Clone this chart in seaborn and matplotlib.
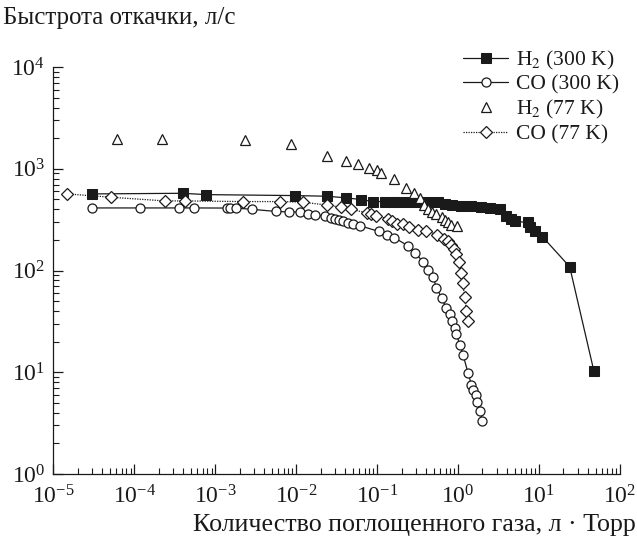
# Pumping speed vs amount of absorbed gas (log-log).
import seaborn as sns
import matplotlib.pyplot as plt
from matplotlib.ticker import LogLocator, NullFormatter

# H2 at 300 K (filled squares, solid line)
h2_300_x = [2.98e-5, 3.96e-4, 7.8e-4, 9.7e-3, 0.024, 0.041, 0.064, 0.089, 0.124, 0.158,
            0.182, 0.24, 0.32, 0.43, 0.57, 0.69, 0.83, 1.10, 1.46, 1.94, 2.46, 3.27,
            3.96, 4.56, 5.0, 7.3, 7.7, 8.85, 11.0, 23.9, 47.7]
h2_300_y = [566, 574, 557, 545, 537, 518, 498, 476, 476, 476,
            476, 468, 472, 476, 468, 454, 441, 434, 428, 418, 408, 403,
            346, 321, 304, 297, 265, 246, 215, 109, 10.2]

# CO at 300 K (open circles, solid line)
co_300_x = [2.98e-5, 1.17e-4, 3.6e-4, 5.46e-4, 1.38e-3, 1.52e-3, 1.79e-3, 2.86e-3, 5.57e-3,
            8.13e-3, 0.0113, 0.0141, 0.017, 0.0226, 0.0273, 0.030, 0.0337, 0.038, 0.0431,
            0.0497, 0.0611, 0.105, 0.133, 0.161, 0.241, 0.29, 0.37, 0.43, 0.49, 0.541,
            0.624, 0.719, 0.79, 0.83, 0.91, 0.955, 1.05, 1.15, 1.33, 1.46, 1.53, 1.65,
            1.71, 1.85, 2.0]
co_300_y = [412, 412, 412, 412, 411, 411, 411, 399, 381,
            376, 376, 359, 351, 340, 328, 321, 314, 304, 293,
            286, 276, 242, 225, 211, 175, 150, 122, 101, 86, 67.8,
            54, 42.5, 37, 31.8, 27.3, 23.5, 18.7, 14.9, 9.8, 7.55, 6.73, 5.92,
            5.08, 4.18, 3.33]

# H2 at 77 K (open triangles, no line)
h2_77_x = [6.1e-5, 2.2e-4, 2.33e-3, 8.6e-3, 0.0237, 0.0407, 0.0582, 0.079, 0.0984, 0.111,
           0.162, 0.226, 0.286, 0.343, 0.38, 0.426, 0.47, 0.541, 0.624, 0.686, 0.753,
           0.829, 0.98]
h2_77_y = [1950, 1950, 1900, 1750, 1330, 1188, 1102, 1023, 977, 912,
           796, 649, 574, 517, 441, 403, 379, 359, 333, 312, 297,
           283, 272]

# CO at 77 K (open diamonds, dotted line)
co_77_x = [1.49e-5, 5.15e-5, 2.39e-4, 4.23e-4, 2.22e-3, 6.3e-3, 0.012, 0.0237, 0.0357,
           0.0473, 0.0757, 0.0836, 0.0964, 0.137, 0.151, 0.174, 0.208, 0.246, 0.321,
           0.407, 0.554, 0.666, 0.756, 0.828, 0.897, 0.955, 1.03, 1.10, 1.14, 1.21,
           1.27, 1.33]
co_77_y = [566, 525, 483, 483, 476, 476, 470, 440, 420,
           398, 369, 359, 342, 323, 309, 288, 286, 265, 252,
           246, 225, 206, 193, 177, 162, 145, 120, 93.5, 74.6, 54.9,
           40, 32]

labels = ['H$_2$ (300 K)', 'CO (300 K)', 'H$_2$ (77 K)', 'CO (77 K)']

sns.set_style('ticks', {'xtick.direction': 'in', 'ytick.direction': 'in'})
plt.rcParams['font.family'] = ['Liberation Serif', 'DejaVu Serif']
plt.rcParams['mathtext.fontset'] = 'stix'

fig = plt.figure(figsize=(6.37, 5.44), dpi=100)
ax = fig.add_axes([0.0837, 0.1287, 0.8896, 0.7481])

ink = '#1a1a1a'
sns.lineplot(x=h2_300_x, y=h2_300_y, ax=ax, sort=False, estimator=None, color=ink,
             lw=0.9, marker='s', markersize=6.5, markerfacecolor=ink,
             markeredgecolor=ink, label=labels[0])
sns.lineplot(x=co_300_x, y=co_300_y, ax=ax, sort=False, estimator=None, color=ink,
             lw=0.9, marker='o', markersize=6.5, markerfacecolor='white',
             markeredgecolor=ink, markeredgewidth=0.9, label=labels[1])
sns.lineplot(x=h2_77_x, y=h2_77_y, ax=ax, sort=False, estimator=None, color=ink,
             lw=0, marker='^', markersize=7, markerfacecolor='white',
             markeredgecolor=ink, markeredgewidth=0.9, label=labels[2])
sns.lineplot(x=co_77_x, y=co_77_y, ax=ax, sort=False, estimator=None, color=ink,
             lw=0.9, ls=(0, (1, 1)), marker='D', markersize=6, markerfacecolor='white',
             markeredgecolor=ink, markeredgewidth=0.9, label=labels[3])

ax.set_xscale('log')
ax.set_yscale('log')
ax.set_xlim(1e-5, 1e2)
ax.set_ylim(1, 1e4)
ax.xaxis.set_major_locator(LogLocator(base=10, numticks=20))
ax.xaxis.set_minor_locator(LogLocator(base=10, subs=range(2, 10), numticks=100))
ax.yaxis.set_minor_locator(LogLocator(base=10, subs=range(2, 10), numticks=100))
ax.xaxis.set_minor_formatter(NullFormatter())
ax.yaxis.set_minor_formatter(NullFormatter())
ax.tick_params(which='major', length=7, width=0.9, labelsize=17, color=ink, labelcolor=ink)
ax.tick_params(which='minor', length=4.5, width=0.8, color=ink)
ax.tick_params(axis='x', which='major', pad=8)
ax.tick_params(axis='y', which='major', pad=6)
sns.despine(ax=ax)
for s in ('left', 'bottom'):
    ax.spines[s].set_linewidth(0.9)
    ax.spines[s].set_color(ink)
ax.set_xlabel('')
ax.set_ylabel('')

ax.legend(loc='upper right', bbox_to_anchor=(0.985, 1 - 40 / 544),
          bbox_transform=fig.transFigure, frameon=False, fontsize=15.5,
          handlelength=2.1, handletextpad=0.35, labelspacing=0.15, borderaxespad=0.0,
          labelcolor=ink)

fig.text(0.004, 1 - 18 / 544, 'Быстрота откачки, л/с', ha='left', va='center',
         fontsize=18, color=ink)
fig.text(0.998, 1 - 525 / 544, 'Количество поглощенного газа, л · Торр', ha='right',
         va='center', fontsize=18.7, color=ink)

fig.savefig('out.png', dpi=100)
